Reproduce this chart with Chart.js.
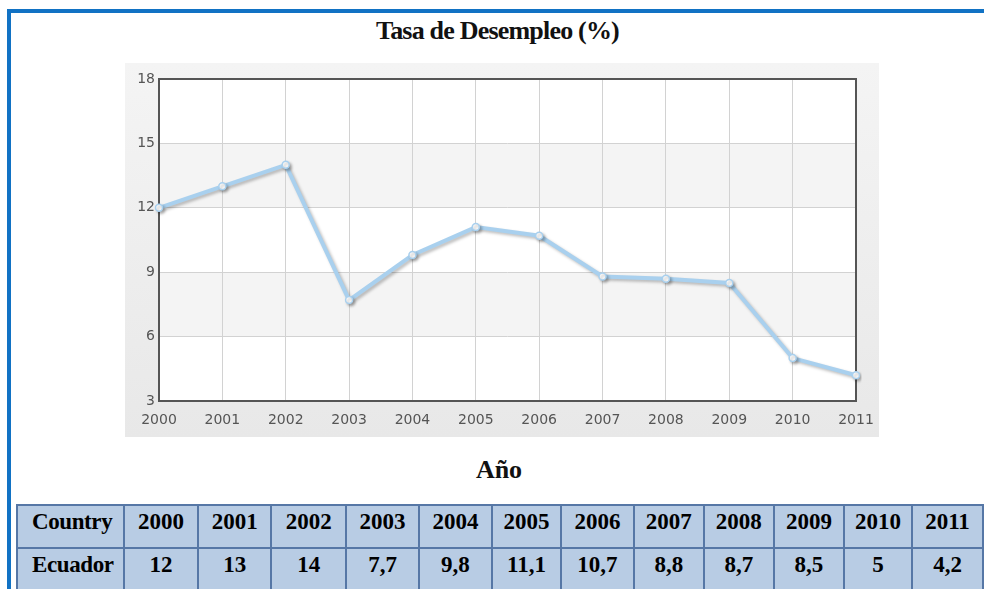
<!DOCTYPE html>
<html>
<head>
<meta charset="utf-8">
<script src="https://cdn.jsdelivr.net/npm/chart.js@4.4.0/dist/chart.umd.min.js"></script>
<style>
  body { margin: 0; width: 984px; height: 589px; overflow: hidden; background: #fff; position: relative; }
  .frame { position: absolute; left: 7px; top: 9px; width: 1100px; height: 700px;
           border-left: 4px solid #1172c4; border-top: 4px solid #1172c4; }
  .title { position: absolute; left: 0; width: 995px; top: 18px; text-align: center;
           font: bold 26px "Liberation Serif", serif; line-height: 26px; letter-spacing: -0.8px; color: #111; }
  .xtitle { position: absolute; left: 0; width: 998px; top: 457px; text-align: center;
            font: bold 26px "Liberation Serif", serif; line-height: 26px; color: #111; }
  .panel { position: absolute; left: 125px; top: 63px; width: 754px; height: 374px;
           background: linear-gradient(#f4f4f4, #e8e8e8); }
  table { position: absolute; left: 16px; top: 504px; border-collapse: collapse; table-layout: fixed; }
  td { background: #b8cce4; border: 2px solid #5677a6; height: 37px; padding: 4px 0 0 0; vertical-align: top;
       font: bold 23px "Liberation Serif", serif; line-height: 23px; color: #000; text-align: center; white-space: nowrap; }
  td.first { text-align: left; padding-left: 14px; letter-spacing: -0.4px; }
</style>
</head>
<body>
<div class="frame"></div>
<div class="title">Tasa de Desempleo (%)</div>
<div class="panel"><canvas id="chart" width="754" height="374"></canvas></div>
<div class="xtitle">Año</div>
<table id="tbl"></table>
<script>
// data
const years = ['2000', '2001', '2002', '2003', '2004', '2005', '2006', '2007', '2008', '2009', '2010', '2011'];
const ecuador = [12, 13, 14, 7.7, 9.8, 11.1, 10.7, 8.8, 8.7, 8.5, 5, 4.2];
const yTicks = [3, 6, 9, 12, 15, 18];
const colWidths = [107, 76, 74, 76, 74, 74, 70, 74, 71, 71, 71, 69, 72];

// table under the chart
const tbl = document.getElementById('tbl');
const cols = document.createElement('colgroup');
colWidths.forEach(w => { const c = document.createElement('col'); c.style.width = w + 'px'; cols.appendChild(c); });
tbl.appendChild(cols);
function addRow(first, cells) {
    const tr = document.createElement('tr');
    const th = document.createElement('td');
    th.className = 'first';
    th.textContent = first;
    tr.appendChild(th);
    cells.forEach(v => { const td = document.createElement('td'); td.textContent = v; tr.appendChild(td); });
    tbl.appendChild(tr);
}
addRow('Country', years);
addRow('Ecuador', ecuador.map(v => String(v).replace('.', ',')));

// striped bands + frame around plot area
const plotDeco = {
    id: 'plotDeco',
    beforeDatasetsDraw(chart) {
        const { ctx, chartArea: a } = chart;
        ctx.save();
        ctx.strokeStyle = '#555';
        ctx.lineWidth = 2;
        ctx.strokeRect(a.left, a.top, a.right - a.left, a.bottom - a.top);
        ctx.restore();
    },
    beforeDraw(chart) {
        const { ctx, chartArea: a, scales: { y } } = chart;
        ctx.save();
        ctx.fillStyle = '#fff';
        ctx.fillRect(a.left, a.top, a.right - a.left, a.bottom - a.top);
        ctx.fillStyle = '#f4f4f4';
        for (let i = 1; i < yTicks.length - 1; i += 2) {
            const top = y.getPixelForValue(yTicks[i + 1]);
            const bot = y.getPixelForValue(yTicks[i]);
            ctx.fillRect(a.left, top, a.right - a.left, bot - top);
        }
        ctx.restore();
    }
};

// soft shadow under the line
const lineShadow = {
    id: 'lineShadow',
    beforeDatasetDraw(chart) {
        const ctx = chart.ctx;
        ctx.save();
        ctx.shadowColor = 'rgba(0,0,0,0.25)';
        ctx.shadowBlur = 3;
        ctx.shadowOffsetX = 2;
        ctx.shadowOffsetY = 2;
    },
    afterDatasetDraw(chart) {
        chart.ctx.restore();
    }
};

new Chart(document.getElementById('chart'), {
    type: 'line',
    data: {
        labels: years,
        datasets: [{
            label: 'Ecuador',
            data: ecuador,
            borderColor: '#a9d0ee',
            borderWidth: 4,
            pointRadius: 3.5,
            pointBorderWidth: 1.5,
            pointBackgroundColor: '#fff',
            pointBorderColor: '#a9d0ee',
            tension: 0
        }]
    },
    options: {
        responsive: false,
        animation: false,
        layout: { padding: { top: 16, right: 23, left: 0, bottom: 0 } },
        plugins: { legend: { display: false }, tooltip: { enabled: false } },
        scales: {
            x: {
                grid: { color: '#d2d2d2', drawTicks: false },
                border: { display: false },
                ticks: { color: '#555', padding: 11, maxRotation: 0, autoSkip: false,
                         font: { family: 'DejaVu Sans', size: 14 } },
                afterFit(s) { s.height = 36; s.paddingLeft = 0; s.paddingRight = 0; }
            },
            y: {
                min: 3,
                max: 18,
                grid: { color: '#d2d2d2', drawTicks: false },
                border: { display: false },
                ticks: { stepSize: 3, color: '#555', padding: 4,
                         font: { family: 'DejaVu Sans', size: 14 } },
                afterFit(s) { s.width = 34; s.paddingTop = 0; s.paddingBottom = 0; }
            }
        }
    },
    plugins: [plotDeco, lineShadow]
});
</script>
</body>
</html>
